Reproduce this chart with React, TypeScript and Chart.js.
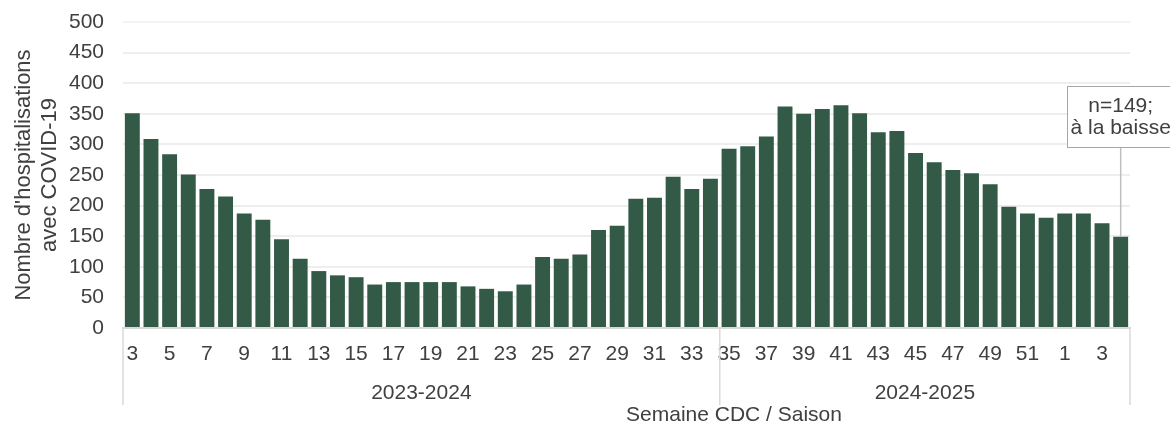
import React, { useEffect, useRef } from "react";
import { Chart, registerables } from "chart.js";

Chart.register(...registerables);

const weeks: string[] = [
  "3", "4", "5", "6", "7", "8", "9", "10", "11", "12", "13", "14", "15", "16", "17", "18",
  "19", "20", "21", "22", "23", "24", "25", "26", "27", "28", "29", "30", "31", "32", "33", "34",
  "35", "36", "37", "38", "39", "40", "41", "42", "43", "44", "45", "46", "47", "48", "49", "50",
  "51", "52", "1", "2", "3", "4",
];

const hospitalisations: number[] = [
  351, 309, 284, 251, 227, 215, 187, 177, 145, 113, 93, 86, 83, 71, 75, 75,
  75, 75, 68, 64, 60, 71, 116, 113, 120, 160, 167, 211, 213, 247, 227, 244,
  293, 297, 313, 362, 350, 358, 364, 351, 320, 322, 286, 271, 258, 253, 235, 198,
  187, 180, 187, 187, 171, 149,
];

const seasonLabels: string[] = ["2023-2024", "2024-2025"];
const seasonLengths: number[] = [32, 22];

const yTicks: number[] = [0, 50, 100, 150, 200, 250, 300, 350, 400, 450, 500];

const yTitle: string[] = ["Nombre d'hospitalisations", "avec COVID-19"];
const xTitle = "Semaine CDC / Saison";
const annotationLines: string[] = ["n=149;", "à la baisse"];

const FONT = "'Liberation Sans', Arial, sans-serif";
const TEXT = "#404040";
const BAR = "#325A46";
const LINE = "#d9d9d9";

const overlay = {
  id: "overlay",
  afterDraw(chart: any) {
    const ctx = chart.ctx;
    const xs = chart.scales.x;
    const ys = chart.scales.y;
    const area = chart.chartArea;
    ctx.save();

    // season separators and labels
    const boundaries: number[] = [area.left];
    let idx = 0;
    seasonLengths.forEach((len, s) => {
      idx += len;
      const right =
        idx >= weeks.length
          ? area.right
          : (xs.getPixelForValue(idx - 1) + xs.getPixelForValue(idx)) / 2;
      boundaries.push(right);
      const left = boundaries[s];
      ctx.fillStyle = TEXT;
      ctx.font = `21px ${FONT}`;
      ctx.textAlign = "center";
      ctx.textBaseline = "middle";
      ctx.fillText(seasonLabels[s], (left + right) / 2, 393);
    });
    ctx.strokeStyle = LINE;
    ctx.lineWidth = 1.5;
    boundaries.forEach((b) => {
      ctx.beginPath();
      ctx.moveTo(b, area.bottom);
      ctx.lineTo(b, 405);
      ctx.stroke();
    });

    // x title
    ctx.fillStyle = TEXT;
    ctx.font = `21px ${FONT}`;
    ctx.textAlign = "center";
    ctx.textBaseline = "middle";
    ctx.fillText(xTitle, 734, 415);

    // y title
    ctx.save();
    ctx.font = `22px ${FONT}`;
    ctx.translate(0, (area.top + area.bottom) / 2);
    ctx.rotate(-Math.PI / 2);
    ctx.fillText(yTitle[0], 0, 24);
    ctx.fillText(yTitle[1], 0, 50);
    ctx.restore();

    // annotation
    const last = weeks.length - 1;
    const bx = xs.getPixelForValue(last);
    const by = ys.getPixelForValue(hospitalisations[last]);
    const boxTop = 86;
    const boxBottom = 147;
    const boxLeft = 1067;
    const boxRight = bx + (bx - boxLeft);
    ctx.strokeStyle = "#bfbfbf";
    ctx.lineWidth = 1.5;
    ctx.beginPath();
    ctx.moveTo(bx, boxBottom);
    ctx.lineTo(bx, by);
    ctx.stroke();
    ctx.fillStyle = "#ffffff";
    ctx.fillRect(boxLeft, boxTop, boxRight - boxLeft, boxBottom - boxTop);
    ctx.strokeStyle = "#a6a6a6";
    ctx.lineWidth = 1;
    ctx.strokeRect(boxLeft + 0.5, boxTop + 0.5, boxRight - boxLeft, boxBottom - boxTop);
    ctx.fillStyle = TEXT;
    ctx.font = `21px ${FONT}`;
    ctx.textAlign = "center";
    ctx.fillText(annotationLines[0], bx, 106);
    ctx.fillText(annotationLines[1], bx, 128);

    ctx.restore();
  },
};

export default function App() {
  const ref = useRef<HTMLCanvasElement>(null);

  useEffect(() => {
    document.body.style.margin = "0";
    const canvas = ref.current;
    if (!canvas) return;
    const chart = new Chart(canvas, {
      type: "bar",
      data: {
        labels: weeks,
        datasets: [
          {
            data: hospitalisations,
            backgroundColor: BAR,
            barPercentage: 0.8,
            categoryPercentage: 1,
          },
        ],
      },
      options: {
        animation: false,
        responsive: false,
        maintainAspectRatio: false,
        layout: { padding: { top: 22, right: 40, left: 0, bottom: 0 } },
        plugins: {
          legend: { display: false },
          tooltip: { enabled: false },
          title: { display: false },
        },
        scales: {
          x: {
            grid: { display: false, drawTicks: false },
            border: { display: true, color: LINE, width: 2 },
            ticks: {
              autoSkip: false,
              maxRotation: 0,
              minRotation: 0,
              padding: 14,
              color: TEXT,
              font: { family: FONT, size: 21 },
              callback: (_v: any, i: number) => (i % 2 === 0 ? weeks[i] : ""),
            },
            afterFit: (scale: any) => {
              scale.height = 100;
            },
          },
          y: {
            min: 0,
            max: 500,
            afterBuildTicks: (scale: any) => {
              scale.ticks = yTicks.map((v) => ({ value: v }));
            },
            grid: {
              drawTicks: false,
              color: (c: any) =>
                c.tick && c.tick.value === 0 ? "rgba(0,0,0,0)" : c.tick && c.tick.value === 500 ? "#f3f3f3" : "#eeeeee",
              lineWidth: 2,
            },
            border: { display: false },
            ticks: {
              padding: 19,
              color: TEXT,
              font: { family: FONT, size: 21 },
            },
            afterFit: (scale: any) => {
              scale.width = 123;
              scale.paddingTop = 0;
              scale.paddingBottom = 0;
            },
          },
        },
      },
      plugins: [overlay],
    });
    return () => chart.destroy();
  }, []);

  return (
    <div style={{ width: 1170, height: 428 }}>
      <canvas ref={ref} width={1170} height={428} style={{ display: "block" }} />
    </div>
  );
}
